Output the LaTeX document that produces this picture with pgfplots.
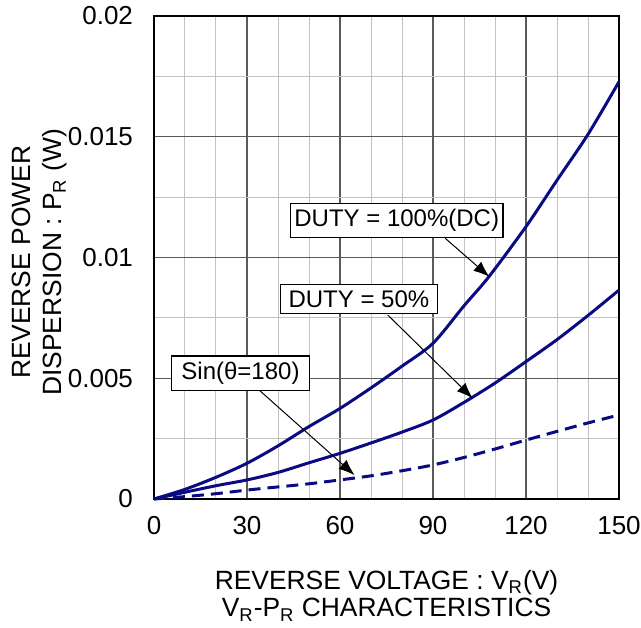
\documentclass[border=0pt]{standalone}
\usepackage{fontspec}
\setmainfont{Liberation Sans}
\usepackage{pgfplots}
\pgfplotsset{compat=1.18}
\usetikzlibrary{arrows.meta}
\definecolor{curve}{RGB}{10,10,130}
\definecolor{majgrid}{RGB}{90,90,90}
\definecolor{mingrid}{RGB}{195,195,195}
\begin{document}
\begin{tikzpicture}
\useasboundingbox (-77pt,-64pt) rectangle (243.5pt,249.5pt);
\begin{axis}[
  at={(0,0)}, anchor=south west,
  width=232.5pt, height=241.5pt, scale only axis,
  xmin=0, xmax=150, ymin=0, ymax=0.02,
  xtick={0,30,60,90,120,150},
  ytick={0,0.005,0.01,0.015,0.02},
  yticklabels={0,0.005,0.01,0.015,0.02},
  scaled y ticks=false,
  minor xtick={10,20,40,50,70,80,100,110,130,140},
  minor ytick={0.0025,0.0075,0.0125,0.0175},
  grid=both,
  major grid style={majgrid, line width=0.6pt},
  minor grid style={mingrid, line width=0.5pt},
  major tick length=0pt, minor tick length=0pt,
  axis line style={line width=1pt, black},
  /pgf/number format/assume math mode=true,
  ticklabel style={font=\fontsize{13}{15}\selectfont},
  xticklabel style={yshift=-5pt},
  yticklabel style={xshift=-7pt},
  xlabel={REVERSE VOLTAGE : V\textsubscript{R}(V)\\V\textsubscript{R}-P\textsubscript{R} CHARACTERISTICS},
  xlabel style={font=\fontsize{13.2}{13.8}\selectfont, align=center, at={(axis description cs:0.5,0)}, anchor=north, yshift=-32pt},
  ylabel={REVERSE POWER\\DISPERSION : P\textsubscript{R} (W)},
  ylabel style={font=\fontsize{13.2}{15.5}\selectfont, align=center, at={(axis description cs:-0.172,0.49)}, anchor=south},
  clip=false,
]
\addplot[curve, line width=1.5pt, smooth] coordinates {
(0,0) (10,0.0004) (20,0.0009) (30,0.00148) (40,0.0022) (50,0.0030) (60,0.00375)
(70,0.0046) (80,0.0055) (90,0.00645) (100,0.0080) (108,0.0092) (120,0.01128)
(130,0.0132) (140,0.0151) (150,0.01728)};
\addplot[curve, line width=1.5pt, smooth] coordinates {
(0,0) (10,0.00028) (20,0.00055) (30,0.00079) (40,0.0011) (50,0.0015) (60,0.00189)
(70,0.00232) (80,0.00277) (90,0.00327) (100,0.0040) (110,0.0048) (120,0.00569)
(130,0.0066) (140,0.0076) (150,0.00865)};
\addplot[curve, line width=1.5pt, smooth, dash pattern=on 6pt off 3.5pt] coordinates {
(0,0) (10,0.0001) (20,0.00022) (30,0.00037) (40,0.0005) (50,0.00063) (60,0.00079)
(70,0.00096) (80,0.00117) (90,0.00141) (100,0.00172) (110,0.00207) (120,0.00244)
(130,0.0028) (140,0.00315) (150,0.00348)};
\draw[line width=0.5pt, -{Latex[length=8pt,width=6pt]}] (axis cs:93.9,0.0108) -- (axis cs:108.2,0.0092);
\draw[line width=0.5pt, -{Latex[length=8pt,width=6pt]}] (axis cs:75.4,0.00762) -- (axis cs:102.8,0.00417);
\draw[line width=0.5pt, -{Latex[length=8pt,width=6pt]}] (axis cs:34.1,0.00449) -- (axis cs:64.7,0.00099);
\node[draw, fill=white, line width=0.75pt, inner xsep=2pt, inner ysep=3pt, font=\fontsize{12}{14}\selectfont] at (axis cs:78.3,0.01153) {DUTY = 100\%(DC)};
\node[draw, fill=white, line width=0.75pt, inner xsep=4pt, inner ysep=3pt, font=\fontsize{12}{14}\selectfont] at (axis cs:66.1,0.00828) {DUTY = 50\%};
\node[draw, fill=white, line width=0.75pt, inner xsep=5pt, inner ysep=3pt, font=\fontsize{12}{14}\selectfont] at (axis cs:27.9,0.0052) {Sin(θ=180)};
\end{axis}
\end{tikzpicture}
\end{document}
